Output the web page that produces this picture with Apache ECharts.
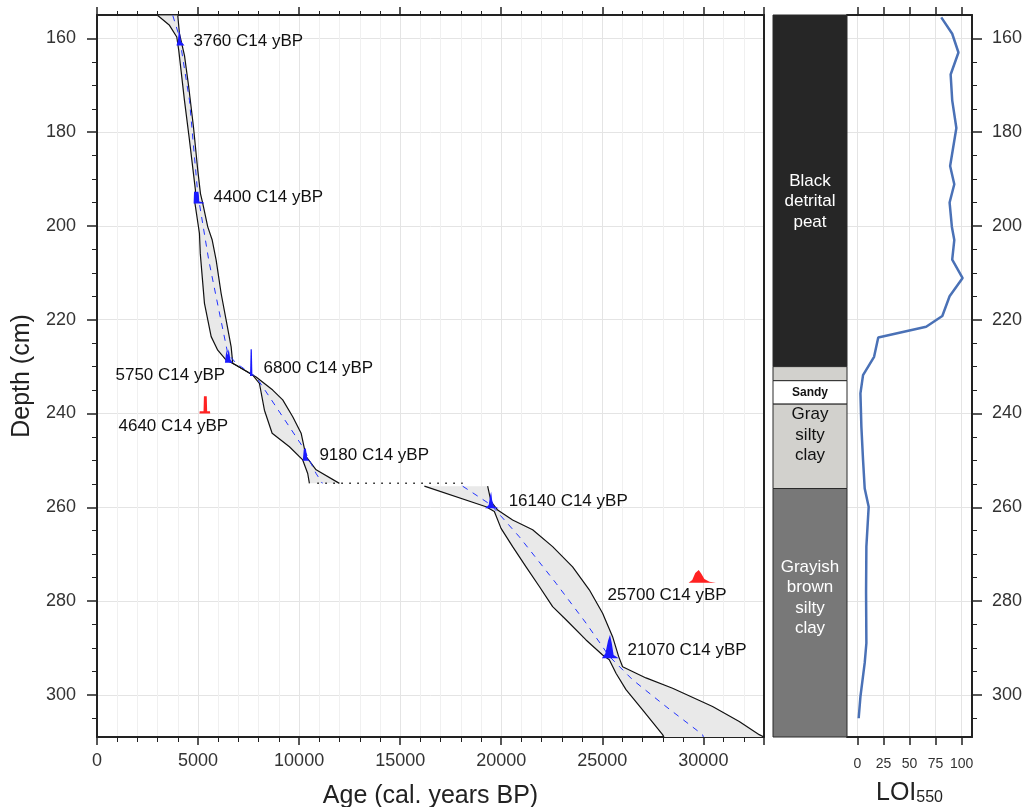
<!DOCTYPE html>
<html>
<head>
<meta charset="utf-8">
<title>Age-depth model</title>
<script src="https://cdn.jsdelivr.net/npm/echarts@6/dist/echarts.min.js"></script>
<style>
  html, body { margin: 0; padding: 0; background: #fff; }
  #chart { width: 1031px; height: 807px; }
</style>
</head>
<body>
<div id="chart"></div>
<script>
// ---- age-depth model, [age (cal BP), depth (cm)] ----
// upper section (above the hiatus)
const upperYoung = [[3007,155.1],[3586,157.2],[3947,159.7],[4046,162.6],[4327,173.2],[4575,181.7],[4871,192.4],[4837,194.9],[5069,201.6],[5110,205.9],[5317,216.5],[5648,223.6],[5974,226.5],[6390,228.6],[6884,229.7],[7705,231.8],[8037,233.6],[8284,239.3],[8665,244.2],[9520,247.1],[10178,249.9],[10425,252.8],[10509,254.9]];
const upperOld = [[3996,155.1],[4080,159.0],[4327,163.6],[4540,170.4],[4773,178.9],[4985,188.1],[5119,193.1],[5232,195.2],[5480,200.2],[5700,203.0],[5895,207.3],[6142,214.4],[6390,220.1],[6637,225.8],[6716,229.3],[7873,232.2],[8694,235.0],[9189,237.1],[9684,240.7],[10099,244.2],[10346,249.2],[10841,252.0],[11993,254.9]];
const upperMedian = [[3749,155.1],[4080,159.7],[4575,173.2],[4985,193.1],[5529,207.3],[5895,215.1],[6469,227.2],[6884,229.3],[7873,232.2],[10178,247.1],[10841,252.8],[11150,254.9]];
// lower section (below the hiatus)
const lowerYoung = [[16197,255.5],[19248,259.9],[19659,260.9],[19990,264.5],[20564,268.4],[21227,272.7],[21885,276.9],[22542,281.2],[23205,284.0],[24194,288.3],[25015,291.5],[25346,292.5],[25677,295.4],[26172,298.9],[26993,303.2],[27982,308.5],[28050,309]];
const lowerOld = [[19327,255.5],[19496,258.8],[19822,260.6],[20564,262.7],[21553,264.8],[22542,268.4],[23531,272.7],[24357,277.6],[25015,282.6],[25509,287.6],[25806,291.8],[26004,294.0],[27161,296.4],[28477,298.6],[30455,302.5],[31775,305.7],[32764,308.5],[33000,309]];
const lowerMedian = [[18091,255.5],[19496,259.5],[20895,266.3],[22710,276.2],[24194,284.7],[25346,291.8],[26499,296.8],[28150,302.5],[29960,308.5],[30000,309]];
const hiatus = [[10900,254.9],[18090,254.9]];

// ---- radiocarbon dates: label, label anchor [age, depth], accepted?, calibrated probability outline ----
const dateNames = ['3760 C14 yBP','4400 C14 yBP','5750 C14 yBP','6800 C14 yBP','4640 C14 yBP','9180 C14 yBP','16140 C14 yBP','25700 C14 yBP','21070 C14 yBP'];
const dateLabelAt = [[4773,160.6],[5762,193.9],[915,231.8],[8234,230.3],[1063,242.8],[11004,248.9],[20366,258.8],[25262,278.7],[26251,290.6]];
const dateAccepted = [true,true,true,true,false,true,true,false,true];
const dateProbs = [
  [[3930,161.5],[4000,160.5],[4040,158.8],[4100,158.6],[4150,160.6],[4330,161.5]],
  [[4780,195.2],[4800,192.7],[5020,192.7],[5060,194.8],[5280,195.0],[5290,195.2]],
  [[6330,229.2],[6400,226.5],[6450,227.5],[6520,226.3],[6600,228.5],[6720,229.2]],
  [[7570,232.0],[7600,226.3],[7660,226.3],[7690,232.0]],
  [[5070,240],[5080,239.5],[5270,239.5],[5290,236.3],[5430,236.3],[5450,239.5],[5590,239.5],[5600,240]],
  [[10180,250.1],[10230,247.6],[10330,247.4],[10400,249.5],[10510,250.1]],
  [[19200,260.2],[19380,259.5],[19450,257.5],[19500,256.7],[19550,258.5],[19640,259.8],[19870,260.2]],
  [[29270,276.1],[29450,275.5],[29600,274.0],[29770,273.4],[29900,274.2],[30050,275.3],[30300,275.9],[30620,276.1]],
  [[24980,292.2],[25150,291.2],[25280,288.5],[25380,287.2],[25470,289.0],[25560,291.5],[25810,292.2]]
];

// ---- lithology ----
const layerTop = [155, 230, 233, 238, 256];
const layerBottom = [230, 233, 238, 256, 309];
const layerNames = ['Black\ndetrital\npeat', '', 'Sandy', 'Gray\nsilty\nclay', 'Grayish\nbrown\nsilty\nclay'];
const layerLabelDepth = [194.8, 231.5, 235.5, 244.6, 279.3];

// ---- LOI550 (%) ----
const loiValue = [80.5,91,97,89.5,91,95,89,93,88.5,90.7,93,91,101,88.5,81.5,66,20,16,5.4,2.9,3.8,5.4,7,10.8,8.6,8.3,8.6,7,2.9,1.2];
const loiDepth = [155.5,159,163,167.7,173.2,179.1,187.2,191.1,195,200.2,203,207.2,211.1,215,219.2,221.5,223.8,227.9,231.8,235.7,242.8,249.9,256,259.9,268.4,278,289,293.2,300.4,305];

// ---- ticks ----
const depthTicks = [160, 180, 200, 220, 240, 260, 280, 300];
const depthMinorTicks = [165,170,175,185,190,195,205,210,215,225,230,235,245,250,255,265,270,275,285,290,295,305];
const loiTicks = [0, 25, 50, 75, 100];

const FONT = '"Liberation Sans", Arial, Helvetica, sans-serif';
const AXIS = '#222';
const layerFill = ['#262626', '#d2d1cd', '#ffffff', '#d2d1cd', '#787878'];
const layerText = ['#ffffff', '#111', '#111', '#111', '#ffffff'];

const chart = echarts.init(document.getElementById('chart'), null, { renderer: 'canvas' });

function polygon(points, fill, z) {
  return {
    type: 'custom', xAxisIndex: 0, yAxisIndex: 0, z: z, silent: true, clip: true,
    data: [[points[0][0], points[0][1]]],
    renderItem: (params, api) => ({
      type: 'polygon',
      shape: { points: points.map(p => api.coord(p)) },
      style: { fill: fill }
    })
  };
}
function line(data, style, z) {
  return { type: 'line', xAxisIndex: 0, yAxisIndex: 0, data: data, symbol: 'none', silent: true, z: z, lineStyle: style };
}

const frameLine = { show: true, onZero: false, lineStyle: { color: AXIS, width: 2 } };
const depthBase = { type: 'value', inverse: true, min: 155, max: 309 };

const option = {
  animation: false,
  backgroundColor: '#fff',
  grid: [
    { left: 97, top: 15, width: 667, height: 722, outerBoundsMode: 'none', containLabel: false },
    { left: 773, top: 15, width: 74, height: 722, outerBoundsMode: 'none', containLabel: false },
    { left: 847, top: 15, width: 125, height: 722, outerBoundsMode: 'none', containLabel: false }
  ],
  xAxis: [
    {
      gridIndex: 0, type: 'value', min: 0, max: 33000, interval: 5000, position: 'bottom',
      axisLine: frameLine,
      axisTick: { show: true, length: 8, lineStyle: { color: AXIS, width: 1.5 } },
      minorTick: { show: true, splitNumber: 5, length: 5, lineStyle: { color: AXIS, width: 1 } },
      axisLabel: { fontSize: 18, color: '#333', margin: 15, fontFamily: FONT, showMaxLabel: false, formatter: v => String(v) },
      splitLine: { show: true, lineStyle: { color: '#e4e4e4', width: 1 } },
      minorSplitLine: { show: true, lineStyle: { color: '#f0f0f0', width: 1 } },
      name: 'Age (cal. years BP)', nameLocation: 'middle', nameGap: 47,
      nameTextStyle: { fontSize: 25, color: AXIS, fontFamily: FONT }
    },
    {
      gridIndex: 0, type: 'value', min: 0, max: 33000, interval: 5000, position: 'top',
      axisLine: frameLine,
      axisTick: { show: true, length: 8, lineStyle: { color: AXIS, width: 1.5 } },
      minorTick: { show: true, splitNumber: 5, length: 4, lineStyle: { color: AXIS, width: 1 } },
      axisLabel: { show: false }, splitLine: { show: false }
    },
    { gridIndex: 1, type: 'value', min: 0, max: 1, show: false },
    {
      gridIndex: 2, type: 'value', min: -10, max: 110, position: 'bottom',
      axisLine: frameLine,
      axisTick: { show: true, customValues: loiTicks, length: 8, lineStyle: { color: AXIS, width: 1.5 } },
      axisLabel: { customValues: loiTicks, fontSize: 14, color: '#333', margin: 20, fontFamily: FONT },
      splitLine: { show: true, lineStyle: { color: '#e4e4e4', width: 1 } },
      name: '{a|LOI}{b|550}', nameLocation: 'middle', nameGap: 39,
      nameTextStyle: {
        color: AXIS, fontFamily: FONT,
        rich: {
          a: { fontSize: 25, lineHeight: 30, verticalAlign: 'bottom', color: AXIS, fontFamily: FONT },
          b: { fontSize: 16, lineHeight: 16, verticalAlign: 'bottom', color: AXIS, fontFamily: FONT }
        }
      }
    },
    {
      gridIndex: 2, type: 'value', min: -10, max: 110, position: 'top',
      axisLine: frameLine,
      axisTick: { show: true, customValues: loiTicks, length: 8, lineStyle: { color: AXIS, width: 1.5 } },
      axisLabel: { show: false }, splitLine: { show: false }
    }
  ],
  yAxis: [
    Object.assign({}, depthBase, {
      gridIndex: 0, position: 'left',
      axisLine: frameLine,
      axisTick: { show: true, customValues: depthTicks, length: 10, lineStyle: { color: AXIS, width: 1.5 } },
      axisLabel: { customValues: depthTicks, fontSize: 18, color: '#333', margin: 21, fontFamily: FONT },
      splitLine: { show: true, lineStyle: { color: '#e4e4e4', width: 1 } },
      name: 'Depth (cm)', nameLocation: 'middle', nameGap: 57,
      nameTextStyle: { fontSize: 25, color: AXIS, fontFamily: FONT }
    }),
    Object.assign({}, depthBase, {
      gridIndex: 0, position: 'left',
      axisLine: { show: false, onZero: false },
      axisTick: { show: true, customValues: depthMinorTicks, length: 5, lineStyle: { color: AXIS, width: 1 } },
      axisLabel: { show: false }, splitLine: { show: false }
    }),
    Object.assign({}, depthBase, {
      gridIndex: 0, position: 'right',
      axisLine: frameLine, axisTick: { show: false }, axisLabel: { show: false }, splitLine: { show: false }
    }),
    Object.assign({}, depthBase, { gridIndex: 1, show: false }),
    Object.assign({}, depthBase, {
      gridIndex: 2, position: 'right',
      axisLine: frameLine,
      axisTick: { show: true, customValues: depthTicks, length: 10, lineStyle: { color: AXIS, width: 1.5 } },
      axisLabel: { customValues: depthTicks, fontSize: 18, color: '#333', margin: 20, fontFamily: FONT },
      splitLine: { show: true, lineStyle: { color: '#e4e4e4', width: 1 } }
    }),
    Object.assign({}, depthBase, {
      gridIndex: 2, position: 'right',
      axisLine: { show: false, onZero: false },
      axisTick: { show: true, customValues: depthMinorTicks, length: 5, lineStyle: { color: AXIS, width: 1 } },
      axisLabel: { show: false }, splitLine: { show: false }
    })
  ],
  series: [
    // uncertainty envelope
    polygon(upperYoung.concat(upperOld.slice().reverse()), '#e9e9e9', 1),
    polygon(lowerYoung.concat(lowerOld.slice().reverse()), '#e9e9e9', 1),
    line(upperYoung, { color: '#111', width: 1.2 }, 3),
    line(upperOld, { color: '#111', width: 1.2 }, 3),
    line(lowerYoung, { color: '#111', width: 1.2 }, 3),
    line(lowerOld, { color: '#111', width: 1.2 }, 3),
    line(upperMedian, { color: '#2233ff', width: 1, type: [6, 6] }, 4),
    line(lowerMedian, { color: '#2233ff', width: 1, type: [6, 6] }, 4),
    line(hiatus, { color: '#111', width: 1.5, type: [1.5, 6.5] }, 4),
    // calibrated date distributions
    {
      type: 'custom', xAxisIndex: 0, yAxisIndex: 0, z: 5, silent: true,
      data: dateProbs.map(d => [d[0][0], d[0][1]]),
      renderItem: (params, api) => ({
        type: 'polygon',
        shape: { points: dateProbs[params.dataIndex].map(p => api.coord(p)) },
        style: { fill: dateAccepted[params.dataIndex] ? '#1a1aff' : '#ff2222' }
      })
    },
    // date labels
    {
      type: 'custom', xAxisIndex: 0, yAxisIndex: 0, z: 6, silent: true,
      data: dateLabelAt,
      renderItem: (params, api) => {
        const p = api.coord([api.value(0), api.value(1)]);
        return {
          type: 'text', x: p[0], y: p[1],
          style: { text: dateNames[params.dataIndex], fill: '#111', fontSize: 17, fontFamily: FONT, align: 'left', verticalAlign: 'middle' }
        };
      }
    },
    // lithology column
    {
      type: 'custom', xAxisIndex: 2, yAxisIndex: 3, z: 2, silent: true,
      data: layerTop.map((t, i) => [0, t]),
      renderItem: (params, api) => {
        const i = params.dataIndex;
        const a = api.coord([0, layerTop[i]]);
        const b = api.coord([1, layerBottom[i]]);
        const children = [{
          type: 'rect',
          shape: { x: a[0], y: a[1], width: b[0] - a[0], height: b[1] - a[1] },
          style: { fill: layerFill[i], stroke: '#2a2a2a', lineWidth: 1 }
        }];
        if (layerNames[i]) {
          const c = api.coord([0.5, layerLabelDepth[i]]);
          const small = layerNames[i] === 'Sandy';
          children.push({
            type: 'text', x: c[0], y: c[1],
            style: {
              text: layerNames[i], fill: layerText[i], align: 'center', verticalAlign: 'middle',
              fontSize: small ? 12 : 17, fontWeight: small ? 'bold' : 'normal',
              lineHeight: 20.5, fontFamily: FONT
            }
          });
        }
        return { type: 'group', children: children };
      }
    },
    // LOI curve
    {
      type: 'line', xAxisIndex: 3, yAxisIndex: 4, symbol: 'none', silent: true, z: 3,
      data: loiValue.map((v, i) => [v, loiDepth[i]]),
      lineStyle: { color: '#4a71b6', width: 2.5 }
    }
  ]
};

chart.setOption(option);
</script>
</body>
</html>
